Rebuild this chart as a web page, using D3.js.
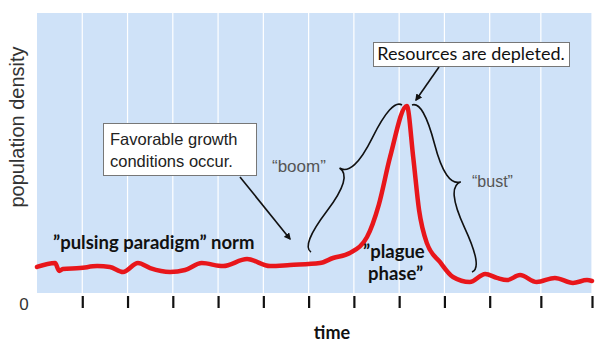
<!DOCTYPE html>
<html>
<head>
<meta charset="utf-8">
<script src="https://cdn.jsdelivr.net/npm/d3@7"></script>
<style>
  body { margin: 0; background: #fff; }
  svg { display: block; }
</style>
</head>
<body>
<svg id="chart" width="602" height="346"></svg>
<script>
// time positions of the tick marks (last two intervals are a bit wider in the figure)
var tickTimes = [1, 2, 3, 4, 5, 6, 7, 8, 9, 10, 11.13, 12.26];

// red population curve
var times = [0, 0.40, 0.49, 0.57, 0.95, 1.33, 1.61, 1.90, 2.23, 2.50, 2.94, 3.27, 3.64, 4.11, 4.64, 5.15,
  5.59, 6.25, 6.54, 6.91, 7.29, 7.55, 7.80, 8.17, 8.31, 8.44, 8.61, 8.90, 9.19, 9.56, 9.90, 10.16,
  10.38, 10.67, 11.04, 11.44, 11.84, 12.15, 12.26];
var density = [0.93, 1.07, 0.79, 0.86, 0.89, 0.96, 0.93, 0.75, 1.07, 0.89, 0.75, 0.82, 1.07, 0.96, 1.21, 0.96,
  1.00, 1.07, 1.25, 1.43, 2.00, 3.15, 4.86, 6.68, 4.86, 2.96, 1.79, 1.11, 0.57, 0.39, 0.68, 0.54,
  0.46, 0.64, 0.39, 0.54, 0.36, 0.46, 0.43];

var svg = d3.select("#chart");
var plotL = 37, plotR = 592, plotT = 13, plotB = 293;

var x = d3.scaleLinear().domain([0, 12.26]).range([plotL, plotR]);
var y = d3.scaleLinear().domain([0, 10]).range([plotB, plotT]);

// plot background
svg.append("rect")
  .attr("x", plotL).attr("y", plotT)
  .attr("width", plotR - plotL).attr("height", plotB - plotT)
  .attr("fill", "#cfe2f8");

// white vertical grid lines
svg.append("g")
  .selectAll("line")
  .data(tickTimes)
  .enter().append("line")
  .attr("x1", function(d){ return x(d); })
  .attr("x2", function(d){ return x(d); })
  .attr("y1", plotT).attr("y2", plotB)
  .attr("stroke", "#fff")
  .attr("stroke-width", 1.2);

// tick marks below the plot, no axis line
var xAxis = svg.append("g")
  .attr("transform", "translate(0," + 296 + ")")
  .call(d3.axisBottom(x).tickValues(tickTimes).tickSize(12).tickFormat(""));
xAxis.select(".domain").remove();
xAxis.selectAll(".tick line").attr("stroke", "#111").attr("stroke-width", 2.2);

svg.append("text")
  .attr("x", 24).attr("y", 310)
  .attr("text-anchor", "middle")
  .attr("font-family", "Liberation Sans, Arial")
  .attr("font-size", 17)
  .attr("fill", "#333")
  .text("0");

// axis titles
svg.append("text")
  .attr("transform", "translate(24,127) rotate(-90)")
  .attr("text-anchor", "middle")
  .attr("font-family", "Liberation Sans, Arial")
  .attr("font-size", 20)
  .attr("fill", "#333")
  .text("population density");

svg.append("text")
  .attr("x", 332).attr("y", 339)
  .attr("text-anchor", "middle")
  .attr("font-family", "Lato")
  .attr("font-weight", "bold")
  .attr("font-size", 18)
  .attr("fill", "#111")
  .text("time");

// the curve
var points = times.map(function(t, i){ return [t, density[i]]; });
var line = d3.line()
  .x(function(d){ return x(d[0]); })
  .y(function(d){ return y(d[1]); })
  .curve(d3.curveMonotoneX);

svg.append("path")
  .datum(points)
  .attr("d", line)
  .attr("fill", "none")
  .attr("stroke", "#e8161b")
  .attr("stroke-width", 4.5)
  .attr("stroke-linejoin", "round")
  .attr("stroke-linecap", "round");

// arrow marker
svg.append("defs").append("marker")
  .attr("id", "arrow")
  .attr("viewBox", "0 0 10 10")
  .attr("refX", 8).attr("refY", 5)
  .attr("markerWidth", 7).attr("markerHeight", 7)
  .attr("markerUnits", "userSpaceOnUse")
  .attr("orient", "auto")
  .append("path")
  .attr("d", "M0,0 L10,5 L0,10 Z")
  .attr("fill", "#111");

// curly brace between two points, tip bulging w to one side
function brace(x1, y1, x2, y2, w, q) {
  var len = Math.sqrt((x1 - x2) * (x1 - x2) + (y1 - y2) * (y1 - y2));
  var dx = (x1 - x2) / len, dy = (y1 - y2) / len;
  var qx1 = x1 + q * w * dy, qy1 = y1 - q * w * dx;
  var qx2 = (x1 - .25 * len * dx) + (1 - q) * w * dy, qy2 = (y1 - .25 * len * dy) - (1 - q) * w * dx;
  var tx = (x1 - .5 * len * dx) + w * dy, ty = (y1 - .5 * len * dy) - w * dx;
  var qx3 = x2 + q * w * dy, qy3 = y2 - q * w * dx;
  var qx4 = (x1 - .75 * len * dx) + (1 - q) * w * dy, qy4 = (y1 - .75 * len * dy) - (1 - q) * w * dx;
  return "M" + x1 + "," + y1 + " Q" + qx1 + "," + qy1 + " " + qx2 + "," + qy2 + " T" + tx + "," + ty +
    " M" + x2 + "," + y2 + " Q" + qx3 + "," + qy3 + " " + qx4 + "," + qy4 + " T" + tx + "," + ty;
}

var ann = svg.append("g").attr("fill", "none").attr("stroke", "#111").attr("stroke-width", 1.6);
ann.append("path").attr("d", brace(402, 105, 311, 252, 20, 0.6));   // boom
ann.append("path").attr("d", brace(472, 272, 412, 105, 20, 0.6));   // bust

ann.append("line")
  .attr("x1", 240).attr("y1", 177).attr("x2", 290).attr("y2", 239)
  .attr("marker-end", "url(#arrow)");
ann.append("line")
  .attr("x1", 439).attr("y1", 67).attr("x2", 416).attr("y2", 100)
  .attr("marker-end", "url(#arrow)");

// callout boxes
svg.append("rect")
  .attr("x", 103.5).attr("y", 123.5).attr("width", 153).attr("height", 52)
  .attr("fill", "#fff").attr("stroke", "#777").attr("stroke-width", 1);
var fav = svg.append("text")
  .attr("font-family", "Liberation Sans, Arial")
  .attr("font-size", 16.5)
  .attr("fill", "#222");
fav.append("tspan").attr("x", 110).attr("y", 145).text("Favorable growth");
fav.append("tspan").attr("x", 110).attr("y", 167).text("conditions occur.");

svg.append("rect")
  .attr("x", 373.5).attr("y", 42.5).attr("width", 196).attr("height", 24)
  .attr("fill", "#fff").attr("stroke", "#777").attr("stroke-width", 1);
svg.append("text")
  .attr("x", 471).attr("y", 60)
  .attr("text-anchor", "middle")
  .attr("font-family", "Lato")
  .attr("font-size", 18)
  .attr("fill", "#111")
  .text("Resources are depleted.");

// labels on the plot
svg.append("text")
  .attr("x", 272).attr("y", 172)
  .attr("font-family", "Liberation Sans, Arial")
  .attr("font-size", 17)
  .attr("fill", "#555")
  .text("\u201Cboom\u201D");
svg.append("text")
  .attr("x", 472).attr("y", 187)
  .attr("font-family", "Liberation Sans, Arial")
  .attr("font-size", 16)
  .attr("fill", "#555")
  .text("\u201Cbust\u201D");

svg.append("text")
  .attr("x", 53).attr("y", 249)
  .attr("font-family", "Lato")
  .attr("font-weight", "bold")
  .attr("font-size", 18.5)
  .attr("fill", "#111")
  .text("\u201Dpulsing paradigm\u201D norm");

var plague = svg.append("text")
  .attr("font-family", "Lato")
  .attr("font-weight", "bold")
  .attr("font-size", 18.5)
  .attr("fill", "#111");
plague.append("tspan").attr("x", 363).attr("y", 258).text("\u201Dplague");
plague.append("tspan").attr("x", 368).attr("y", 280).text("phase\u201D");
</script>
</body>
</html>
